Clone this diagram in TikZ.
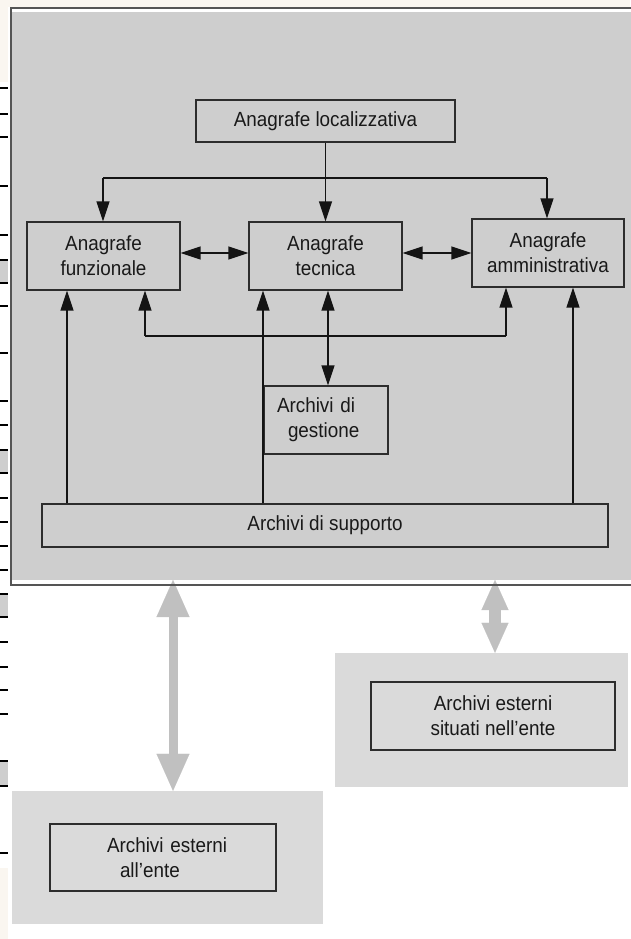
\documentclass[tikz,border=0pt]{standalone}
\usepackage{fontspec}
\setmainfont{Liberation Sans}[FakeStretch=0.92]
\usetikzlibrary{arrows.meta}

\definecolor{paper}{RGB}{250,246,240}
\definecolor{panelA}{RGB}{206,206,206}
\definecolor{panelB}{RGB}{218,218,218}
\definecolor{arrowgray}{RGB}{192,192,192}
\definecolor{boxline}{RGB}{45,45,45}
\definecolor{linkcol}{RGB}{20,20,20}
\definecolor{frameline}{RGB}{85,85,85}

\begin{document}
\begin{tikzpicture}[x=1pt,y=-1pt,
  box/.style={draw=boxline, line width=1.3pt, inner sep=0pt, align=center,
    text=black!90, font=\fontsize{20.5}{25}\selectfont},
  link/.style={draw=linkcol, line width=1.4pt},
  tipend/.style={-{Triangle[length=20pt 0,width=13pt 0]}},
  tipboth/.style={{Triangle[length=20pt 0,width=13pt 0]}-{Triangle[length=20pt 0,width=13pt 0]}},
  panel/.style={fill=panelB, draw=none, inner sep=0pt},
  bigboth/.style={draw=arrowgray, line width=#1},
]
\useasboundingbox (0,0) rectangle (630,939);

% page background and margin strip
\fill[white] (0,0) rectangle (630,939);
\fill[paper] (0,0) rectangle (630,7);
\fill[paper] (0,0) rectangle (8,82);
\fill[paper] (0,868) rectangle (8,939);
\foreach \ya/\yb in {260/283,450/473,594/617,761/786}
  \fill[panelA] (0,\ya) rectangle (8,\yb);
\foreach \yy in {88,114,137,186,235,260,283,306,353,401,425,450,473,498,522,546,570,594,617,642,667,690,714,761,786,853}
  \draw[line width=1.5pt] (0,\yy) -- (8,\yy);

% main grey panel
\fill[panelA] (12,12) rectangle (640,580);
\coordinate (frameS) at (0,580);

% lower panels
\node[panel, minimum width=293pt, minimum height=134pt] (inpanel) at (481.5,720) {};
\node[panel, minimum width=311pt, minimum height=133pt] (outpanel) at (167.5,857.5) {};

% grey two-way arrows between the panels
\coordinate (tipL) at (173,0);
\coordinate (tipR) at (495,0);
\draw[bigboth=9pt,
  {Triangle[length=37pt 0,width=33pt 0,line width=0.1pt 0]}-{Triangle[length=37pt 0,width=33pt 0,line width=0.1pt 0]}]
  (frameS -| tipL) -- (outpanel.north -| tipL);
\draw[bigboth=12pt,
  {Triangle[length=30pt 0,width=27pt 0,line width=0.1pt 0]}-{Triangle[length=30pt 0,width=27pt 0,line width=0.1pt 0]}]
  (frameS -| tipR) -- (inpanel.north -| tipR);

% outline of the main panel
\draw[frameline, line width=2pt] (645,585) -- (11,585) -- (11,8) -- (645,8);

% boxes
\node[box, minimum width=259pt, minimum height=42pt] (loc) at (325.5,121) {Anagrafe localizzativa};
\node[box, minimum width=153pt, minimum height=68pt] (fun) at (103.5,256) {Anagrafe\\funzionale};
\node[box, minimum width=153pt, minimum height=68pt] (tec) at (325.5,256) {Anagrafe\\tecnica};
\node[box, minimum width=152pt, minimum height=68pt] (amm) at (548,253) {Anagrafe\\amministrativa};
\node[box, align=left, inner xsep=13pt, text width=98pt, minimum height=68pt] (ges) at (326,420)
  {\mbox{Archivi di}\\\hspace*{11pt}\mbox{gestione}};
\node[box, minimum width=566pt, minimum height=43pt] (sup) at (325,525.5) {Archivi di supporto};
\node[box, minimum width=244pt, minimum height=68pt] (ein) at (493,716) {Archivi esterni\\situati nell'ente};
\node[box, align=left, inner xsep=57pt, text width=112pt, minimum height=67pt] (eout) at (163,857.5)
  {\mbox{Archivi esterni}\\\hspace*{13pt}\mbox{all'ente}};

% top distribution line
\coordinate (busL) at (103,178);
\coordinate (busR) at (547,178);
\draw[link] (busL) -- (busR);
\draw[link, tipend] (busL) -- (busL |- fun.north);
\draw[link, tipend] (busR) -- (busR |- amm.north);
\draw[link, tipend] (loc.south) -- (tec.north);

% two-way links between the registers
\coordinate (midrow) at (0,253);
\draw[link, tipboth] (fun.east |- midrow) -- (tec.west |- midrow);
\draw[link, tipboth] (tec.east |- midrow) -- (amm.west |- midrow);

% lower collecting line
\coordinate (lbL) at (145,336);
\coordinate (lbR) at (506,336);
\coordinate (gx) at (328,0);
\draw[link] (lbL) -- (lbR);
\draw[link, tipend] (lbL) -- (lbL |- fun.south);
\draw[link, tipend] (lbR) -- (lbR |- amm.south);
\draw[link, tipboth] (tec.south -| gx) -- (ges.north -| gx);

% links up from the support archives
\coordinate (s1) at (67,0);
\coordinate (s2) at (263,0);
\coordinate (s3) at (573,0);
\draw[link, tipend] (sup.north -| s1) -- (fun.south -| s1);
\draw[link, tipend] (sup.north -| s2) -- (tec.south -| s2);
\draw[link, tipend] (sup.north -| s3) -- (amm.south -| s3);
\end{tikzpicture}
\end{document}
